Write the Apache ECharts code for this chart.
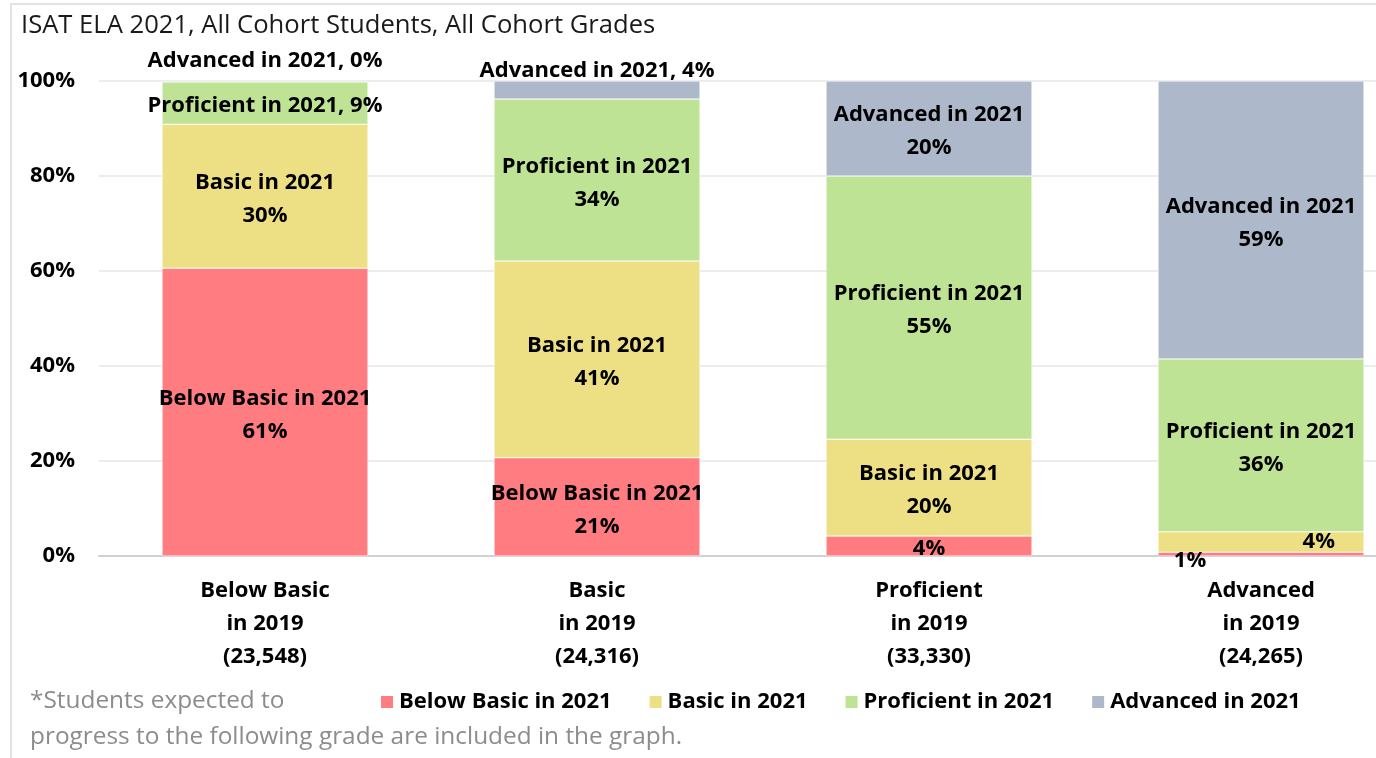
<!DOCTYPE html>
<html>
<head>
<meta charset="utf-8">
<script src="https://cdn.jsdelivr.net/npm/echarts@6/dist/echarts.min.js"></script>
<style>
  html, body { margin: 0; padding: 0; background: #fff; }
  #chart { width: 1376px; height: 758px; }
</style>
</head>
<body>
<div id="chart"></div>
<script>
// categories (2019 level)
var categories = ["Below Basic\nin 2019\n(23,548)", "Basic\nin 2019\n(24,316)", "Proficient\nin 2019\n(33,330)", "Advanced\nin 2019\n(24,265)"];
var yTicks = [0, 20, 40, 60, 80, 100];

// share of each 2019 group reaching each 2021 level (%)
var belowBasic2021 = [60.6, 20.7, 4.2, 0.8];
var basic2021 = [30.3, 41.4, 20.4, 4.3];
var proficient2021 = [8.9, 34.1, 55.4, 36.4];
var advanced2021 = [0.2, 3.8, 20.0, 58.5];

var seriesNames = ["Below Basic in 2021", "Basic in 2021", "Proficient in 2021", "Advanced in 2021"];
var colors = ["#ff7c80", "#ecdf84", "#bee395", "#adb9ca"];

var FONT = "'Open Sans', sans-serif";
var labelBase = {
  show: true,
  color: "#000",
  fontFamily: FONT,
  fontWeight: "bold",
  fontSize: 22,
  lineHeight: 33
};

function twoLine(p) {
  return p.seriesName + "\n" + Math.round(p.value) + "%";
}
function oneLine(p) {
  return p.seriesName + ", " + Math.round(p.value) + "%";
}
function pctOnly(p) {
  return Math.round(p.value) + "%";
}

// per-point label tweaks for the thin segments
function buildData(values, seriesIdx) {
  return values.map(function (v, i) {
    var item = { value: v };
    if (seriesIdx === 3 && i === 0) {
      item.label = { position: "top", distance: 4, offset: [0, 0], formatter: oneLine };
    } else if (seriesIdx === 3 && i === 1) {
      item.label = { position: "top", distance: -6, offset: [0, 0], formatter: oneLine };
    } else if (seriesIdx === 2 && i === 0) {
      item.label = { formatter: oneLine };
    } else if (seriesIdx === 0 && i === 2) {
      item.label = { formatter: pctOnly };
    } else if (seriesIdx === 0 && i === 3) {
      item.label = { position: "bottom", distance: -12, offset: [-71, 0], formatter: pctOnly };
    } else if (seriesIdx === 1 && i === 3) {
      item.label = { position: "insideRight", offset: [-24, 0], formatter: pctOnly };
    }
    return item;
  });
}

var allValues = [belowBasic2021, basic2021, proficient2021, advanced2021];

var chart = echarts.init(document.getElementById("chart"));
chart.setOption({
  animation: false,
  backgroundColor: "#fff",
  textStyle: { fontFamily: FONT },
  title: {
    text: "ISAT ELA 2021, All Cohort Students, All Cohort Grades",
    left: 16,
    top: 8,
    textStyle: { fontFamily: FONT, fontWeight: "normal", fontSize: 25.6, color: "#1a1a1a" }
  },
  // the plot runs past the right edge of the picture, as in the source
  grid: { left: 99, top: 81, width: 1328, height: 475, outerBoundsMode: "none" },
  legend: {
    left: 374,
    top: 686,
    icon: "rect",
    itemWidth: 14,
    itemHeight: 14,
    itemGap: 36,
    data: seriesNames,
    textStyle: { fontFamily: FONT, fontWeight: "bold", fontSize: 22, color: "#000" }
  },
  graphic: [
    {
      type: "polyline",
      shape: { points: [[11, 758], [11, 4], [1376, 4]] },
      style: { stroke: "#d9d9d9", lineWidth: 1.5, fill: null },
      silent: true
    },
    {
      type: "text",
      left: 30,
      top: 683,
      style: {
        text: "*Students expected to\nprogress to the following grade are included in the graph.",
        fontFamily: FONT,
        fontSize: 24.4,
        lineHeight: 36,
        fill: "#8c8c8c"
      }
    }
  ],
  xAxis: {
    type: "category",
    data: categories,
    axisLine: { lineStyle: { color: "#d0d0d0", width: 2 } },
    axisTick: { show: false },
    axisLabel: {
      margin: 18,
      color: "#000",
      fontFamily: FONT,
      fontWeight: "bold",
      fontSize: 22,
      lineHeight: 33
    }
  },
  yAxis: {
    type: "value",
    min: yTicks[0],
    max: yTicks[yTicks.length - 1],
    interval: 20,
    axisLine: { show: false },
    axisTick: { show: false },
    splitLine: { lineStyle: { color: "#e6e6e6", width: 1.5 } },
    axisLabel: {
      margin: 24,
      color: "#000",
      fontFamily: FONT,
      fontWeight: "bold",
      fontSize: 22,
      formatter: function (v) { return v + "%"; }
    }
  },
  series: allValues.map(function (vals, idx) {
    return {
      name: seriesNames[idx],
      type: "bar",
      stack: "total",
      barWidth: 206,
      itemStyle: { color: colors[idx], borderColor: "#fff", borderWidth: 0.5 },
      label: Object.assign({}, labelBase, { position: "inside", offset: [0, 3], formatter: twoLine }),
      data: buildData(vals, idx)
    };
  })
});
</script>
</body>
</html>
